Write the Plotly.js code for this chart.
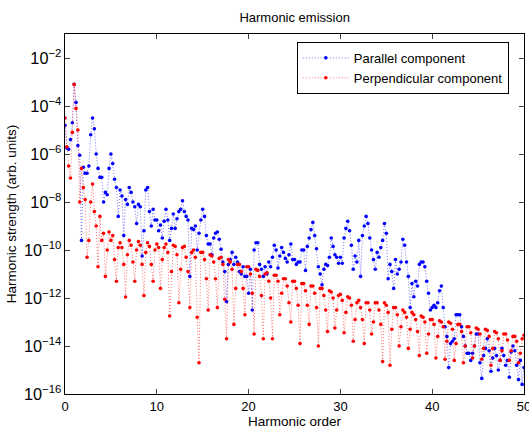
<!DOCTYPE html>
<html>
<head>
<meta charset="utf-8">
<script src="https://cdn.plot.ly/plotly-3.0.1.min.js"></script>
<style>html,body{margin:0;padding:0;background:#fff;}#chart{width:529px;height:431px;}</style>
</head>
<body>
<div id="chart"></div>
<script>
// Harmonic order sampling: first harmonic and step (points every 0.2 harmonic)
const harmonicStart = 0;
const harmonicStep = 0.2;

// log10 of harmonic strength, parallel component (blue), one row per harmonic
const parallelLog10 = [
  -4.8, -5.75, -5.8, -5.4, -4.7,
  -3.1, -3.85, -5.65, -6.05, -9.6,
  -6.55, -6.8, -6.8, -6.5, -5.2,
  -4.5, -4.95, -6.0, -6.6, -6.97,
  -6.97, -8.0, -7.6, -7.7, -6.6,
  -6.0, -6.4, -7.05, -7.4, -8.6,
  -7.5, -7.75, -9.4, -7.9, -8.1,
  -7.4, -7.6, -8.0, -8.2, -8.9,
  -8.1, -8.2, -10.25, -9.2, -7.5,
  -7.4, -8.4, -9.0, -8.3, -8.75,
  -8.75, -9.2, -8.96, -9.5, -8.8,
  -8.3, -8.75, -9.6, -9.1, -8.5,
  -9.1, -8.7, -8.4, -8.3, -7.95,
  -8.4, -8.6, -8.75, -11.1, -9.1,
  -9.15, -9.0, -10.0, -9.3, -8.75,
  -8.3, -8.6, -9.4, -9.75, -9.75,
  -10.2, -9.5, -9.3, -9.25, -9.55,
  -9.97, -10.5, -10.9, -12.15, -10.6,
  -10.4, -10.1, -10.6, -10.3, -10.5,
  -10.9, -11.0, -10.7, -11.1, -11.1,
  -11.8, -10.8, -12.5, -10.0, -9.7,
  -9.7, -10.6, -10.8, -11.1, -10.7,
  -11.0, -10.5, -10.7, -10.3, -9.8,
  -10.0, -10.75, -10.25, -9.9, -10.1,
  -10.35, -10.5, -10.2, -9.75, -10.4,
  -10.4, -10.6, -10.5, -10.5, -10.0,
  -10.0, -10.85, -9.85, -9.5, -9.15,
  -8.85, -9.4, -9.95, -10.7, -11.0,
  -11.45, -10.8, -10.6, -10.65, -10.3,
  -9.5, -9.85, -10.2, -10.3, -10.55,
  -10.3, -10.55, -9.5, -9.1, -8.8,
  -9.2, -9.8, -10.8, -10.25, -10.5,
  -9.6, -11.1, -9.4, -9.0, -8.6,
  -8.9, -9.5, -10.0, -10.4, -10.8,
  -10.1, -10.3, -9.9, -9.6, -8.9,
  -9.3, -11.2, -10.6, -10.9, -11.6,
  -10.4, -11.0, -10.8, -10.5, -9.55,
  -9.8, -10.5, -11.1, -12.4, -11.4,
  -11.95, -11.3, -11.5, -10.6, -10.5,
  -10.5, -10.7, -11.3, -11.8, -12.5,
  -12.4, -12.3, -12.4, -12.2, -11.7,
  -11.5, -12.4, -13.2, -13.6, -14.9,
  -13.9, -13.8, -13.7, -12.7, -12.7,
  -12.7, -13.2, -13.6, -14.0, -14.3,
  -14.3, -14.6, -14.3, -14.0, -13.5,
  -13.5, -14.7, -15.35, -14.4, -14.1,
  -13.7, -14.2, -15.05, -14.5, -14.1,
  -14.4, -15.0, -14.6, -14.1, -14.4,
  -14.8, -14.6, -15.3, -14.25, -14.0,
  -14.2, -14.8, -15.4, -14.6, -15.6,
  -14.9
];

// log10 of harmonic strength, perpendicular component (red), one row per harmonic
const perpendicularLog10 = [
  -4.5, -5.7, -6.5, -7.0, -5.1,
  -3.1, -4.1, -5.0, -8.0, -6.6,
  -7.4, -7.9, -10.3, -9.6, -8.0,
  -7.25, -8.4, -9.0, -10.7, -8.6,
  -9.6, -9.3, -11.1, -10.0, -9.25,
  -9.6, -9.4, -10.4, -11.3, -9.9,
  -9.7, -9.9, -10.6, -11.96, -10.2,
  -9.6, -9.8, -10.5, -11.3, -10.0,
  -9.65, -9.8, -10.6, -11.9, -10.1,
  -9.7, -9.85, -10.6, -11.3, -10.0,
  -9.75, -9.9, -11.6, -10.4, -9.9,
  -9.75, -10.1, -12.75, -10.9, -9.8,
  -9.85, -10.2, -12.2, -10.8, -9.9,
  -9.85, -10.3, -10.9, -12.4, -10.1,
  -10.0, -10.3, -12.8, -14.7, -10.1,
  -10.1, -10.4, -11.2, -12.5, -10.2,
  -10.25, -10.5, -11.2, -12.4, -10.35,
  -10.3, -10.6, -12.05, -13.7, -10.4,
  -10.5, -10.8, -13.1, -11.6, -10.6,
  -10.6, -10.9, -11.6, -12.7, -10.7,
  -10.7, -11.0, -11.8, -13.5, -10.8,
  -10.85, -11.1, -11.9, -13.7, -11.0,
  -10.95, -11.3, -12.0, -13.7, -11.05,
  -11.05, -11.3, -12.7, -11.8, -11.2,
  -11.2, -11.5, -12.2, -13.0, -11.3,
  -11.3, -11.6, -12.3, -13.9, -11.4,
  -11.4, -11.7, -12.3, -13.1, -11.5,
  -11.5, -11.8, -12.4, -14.0, -11.6,
  -11.6, -11.9, -12.5, -13.4, -11.7,
  -11.75, -12.0, -13.25, -12.5, -11.9,
  -11.85, -12.1, -13.45, -12.6, -11.95,
  -12.0, -12.3, -13.8, -12.9, -12.2,
  -12.1, -12.4, -12.9, -13.9, -12.2,
  -12.2, -12.5, -13.5, -13.0, -12.2,
  -12.2, -12.5, -13.1, -14.65, -12.2,
  -12.3, -12.6, -14.8, -13.3, -12.4,
  -12.4, -12.7, -14.0, -13.2, -12.5,
  -12.6, -12.8, -14.1, -13.3, -12.6,
  -12.7, -12.9, -13.4, -14.4, -12.75,
  -12.8, -13.0, -14.3, -13.5, -12.9,
  -12.9, -13.1, -14.5, -13.6, -12.95,
  -13.0, -13.2, -14.55, -13.8, -13.0,
  -13.05, -13.3, -14.6, -13.9, -13.1,
  -13.1, -13.4, -14.7, -14.0, -13.2,
  -13.2, -13.45, -14.5, -14.0, -13.25,
  -13.3, -13.5, -14.55, -14.1, -13.3,
  -13.35, -13.6, -14.8, -14.1, -13.4,
  -13.45, -13.7, -14.6, -14.2, -13.5,
  -13.5, -13.75, -14.6, -14.2, -13.6,
  -13.6, -13.8, -14.7, -14.3, -13.7,
  -13.55
];

const seriesNames = ["Parallel component", "Perpendicular component"];
const xTickValues = [0, 10, 20, 30, 40, 50];

const toLinear = arr => arr.map(v => Math.pow(10, v));

const font = {family: "Liberation Sans, Arial, sans-serif", size: 13, color: "#000"};

const traces = [
  {
    type: "scatter", mode: "lines+markers", name: seriesNames[0],
    x0: harmonicStart, dx: harmonicStep, y: toLinear(parallelLog10),
    line: {color: "rgba(0,0,255,0.55)", width: 1, dash: "1px,2px"},
    marker: {color: "#0000ff", size: 3.6}
  },
  {
    type: "scatter", mode: "lines+markers", name: seriesNames[1],
    x0: harmonicStart, dx: harmonicStep, y: toLinear(perpendicularLog10),
    line: {color: "rgba(255,0,0,0.55)", width: 1, dash: "1px,2px"},
    marker: {color: "#ff0000", size: 3.6}
  }
];

const layout = {
  width: 529, height: 431,
  margin: {l: 65, r: 5, t: 34, b: 37},
  paper_bgcolor: "#fff", plot_bgcolor: "#fff",
  font: font,
  showlegend: true,
  title: {text: "Harmonic emission", font: {size: 13}, x: 0.557, xanchor: "center", y: 0.96, yanchor: "middle"},
  xaxis: {
    range: [0, 50], tickvals: xTickValues, ticktext: xTickValues.map(String),
    ticks: "inside", ticklen: 5, ticklabeloverflow: "allow",
    showline: true, mirror: "ticks", linecolor: "#000", linewidth: 1,
    showgrid: false, zeroline: false, automargin: false,
    title: {text: "Harmonic order", font: {size: 13.5}, standoff: 3},
    tickfont: {size: 13}
  },
  yaxis: {
    type: "log", range: [-16, -1], dtick: 2, tick0: 0,
    exponentformat: "power", ticks: "inside", ticklen: 5,
    showline: true, mirror: "ticks", linecolor: "#000", linewidth: 1,
    showgrid: false, zeroline: false, automargin: false,
    title: {text: "Harmonic strength (arb. units)", font: {size: 13.5}, standoff: 4},
    tickfont: {size: 13}
  },
  legend: {
    x: 0.505, y: 0.978, xanchor: "left", yanchor: "top",
    bgcolor: "#fff", bordercolor: "#000", borderwidth: 1,
    font: {size: 13}, tracegroupgap: 0, itemwidth: 46
  }
};

Plotly.newPlot("chart", traces, layout, {displayModeBar: false, staticPlot: true});
</script>
</body>
</html>
